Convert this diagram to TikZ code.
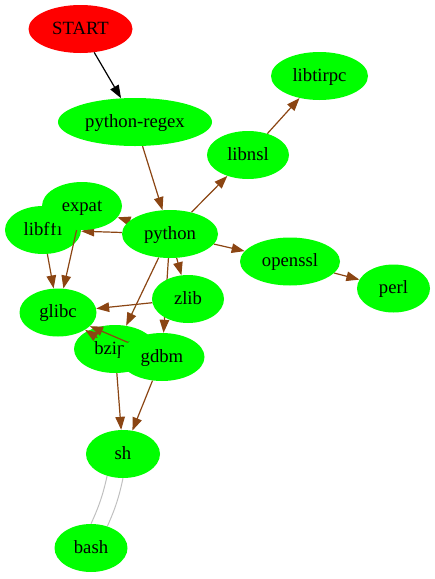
\documentclass[tikz,border=0pt]{standalone}
\usepackage{fontspec}
\setmainfont{Liberation Serif}[Ligatures=NoCommon]
\usetikzlibrary{shapes.geometric,arrows.meta,calc}
\pgfdeclarelayer{back}
\pgfdeclarelayer{edges}
\pgfsetlayers{back,edges,main}
\definecolor{pkggreen}{HTML}{00FF00}
\definecolor{startred}{HTML}{FF0000}
\definecolor{depbrown}{HTML}{8B4513}
\definecolor{linkgray}{HTML}{C0C0C0}
\tikzset{
  pkg/.style={ellipse, fill=pkggreen, draw=none, inner sep=0pt,
    minimum height=48pt, text height=12pt, text depth=2pt,
    font=\fontsize{18.67pt}{20pt}\selectfont},
  startnode/.style={pkg, fill=startred},
  dep/.style={draw=depbrown, line width=1.2pt,
    -{Triangle[length=13pt,width=9.5pt]}},
  startdep/.style={dep, draw=black},
  link/.style={draw=linkgray, line width=1pt}
}
\begin{document}
\begin{tikzpicture}[x=1pt,y=-1pt]
\useasboundingbox (0,0) rectangle (435,579);

% nodes lying beneath the connectors
\begin{pgfonlayer}{back}
  \node[pkg, minimum width=82pt] (bzip)   at (115,349) {bzip2};
  \node[pkg, minimum width=76pt] (libffi) at (43,230)  {libf\kern0.8pt f\kern0.4pt i};
\end{pgfonlayer}

% package nodes
\node[startnode, minimum width=104pt] (start) at (80.5,29) {START};
\node[pkg, minimum width=154pt] (pyregex)  at (135,122)   {python-regex};
\node[pkg, minimum width=97pt]  (libtirpc) at (319.5,76)  {libtirpc};
\node[pkg, minimum width=82pt]  (libnsl)   at (248,155)   {libnsl};
\node[pkg, minimum width=80pt]  (expat)    at (82,206)    {expat};
\node[pkg, minimum width=96pt]  (python)   at (170,234)   {python};
\node[pkg, minimum width=100pt] (openssl)  at (290,261.5) {openssl};
\node[pkg, minimum width=73pt]  (perl)     at (393.5,288.5) {perl};
\node[pkg, minimum width=72pt]  (zlib)     at (188,299)   {zlib};
\node[pkg, minimum width=77pt]  (glibc)    at (58,312.5)  {glibc};
\node[pkg, minimum width=85pt]  (gdbm)     at (162,357)   {gdbm};
\node[pkg, minimum width=74pt]  (sh)       at (123,454)   {sh};
\node[pkg, minimum width=73pt]  (bash)     at (91,548)    {bash};

% bzip2 touches glibc, so only its arrowhead shows
\coordinate (bzfoot) at ($(bzip.center)!0.31!(glibc.center)$);

% dependency connectors
\begin{pgfonlayer}{edges}
  \draw[startdep] (start) -- (pyregex);
  \draw[dep] (pyregex) -- (python);
  \draw[dep] (python) -- (libnsl);
  \draw[dep] (libnsl) -- (libtirpc);
  \draw[dep] (python) -- (expat);
  \draw[dep] (python) -- (libffi);
  \draw[dep] (python) -- (openssl);
  \draw[dep] (openssl) -- (perl);
  \draw[dep] (python) -- (zlib);
  \draw[dep] (python) -- (bzip);
  \draw[dep] (python) -- (gdbm);
  \draw[dep] (expat) -- (glibc);
  \draw[dep] (libffi) -- (glibc);
  \draw[dep] (zlib) -- (glibc);
  \draw[dep] (gdbm) -- (glibc);
  \draw[dep] (bzfoot) -- (glibc);
  \draw[dep] (bzip) -- (sh);
  \draw[dep] (gdbm) -- (sh);
  \draw[link] (sh.234) to[bend left=6] (bash.90);
  \draw[link] (sh.270) to[bend left=6] (bash.53);
\end{pgfonlayer}
\end{tikzpicture}
\end{document}
